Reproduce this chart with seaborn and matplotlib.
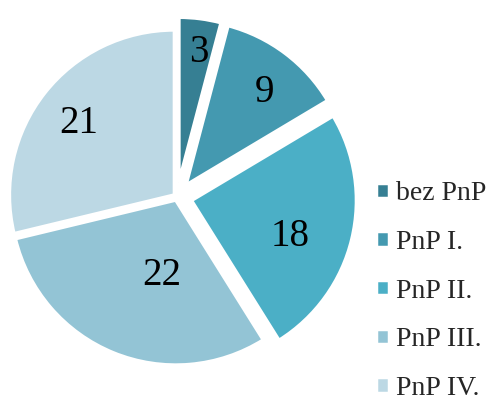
import numpy as np
import matplotlib.pyplot as plt
import seaborn as sns

categories = ["bez PnP", "PnP I.", "PnP II.", "PnP III.", "PnP IV."]
counts = [3, 9, 18, 22, 21]
colors = ["#367f93", "#4499b0", "#4bafc6", "#93c4d5", "#bcd8e4"]

sns.set_theme(style="white")
plt.rcParams['font.family'] = ['Liberation Serif', 'DejaVu Serif']

fig = plt.figure(figsize=(4.97, 4.01), dpi=100)
r_px = 165
w = 2.4 * r_px
ax = fig.add_axes([(177 - w / 2) / 497, (204 - w / 2) / 401, w / 497, w / 401])

explode = [0.09, 0.09, 0.09, 0.02, 0.02]
wedges, _ = ax.pie(counts, colors=colors, startangle=90, counterclock=False,
                   explode=explode, radius=1,
                   wedgeprops=dict(edgecolor="white", linewidth=2.5))
ax.set_xlim(-1.2, 1.2)
ax.set_ylim(-1.2, 1.2)
ax.set_aspect("equal")
ax.axis("off")

# label distance from the wedge apex and angle shift, per slice
label_dist = [0.82, 0.76, 0.63, 0.44, 0.74]
label_shift = [-1, -2, -4, 11, 0]
for wdg, val, d, s in zip(wedges, counts, label_dist, label_shift):
    ang = np.deg2rad((wdg.theta1 + wdg.theta2) / 2 + s)
    cx, cy = wdg.center
    ax.text(cx + d * np.cos(ang), cy + d * np.sin(ang), str(val),
            ha="center", va="center_baseline", fontsize=28, color="black")

fig.legend(wedges, categories, loc="center left",
           bbox_to_anchor=(365 / 497, 1 - 291 / 401), frameon=False,
           fontsize=20, handlelength=0.48, handleheight=0.48,
           handletextpad=0.25, labelspacing=0.85, borderaxespad=0)

fig.savefig("out.png", dpi=100)
